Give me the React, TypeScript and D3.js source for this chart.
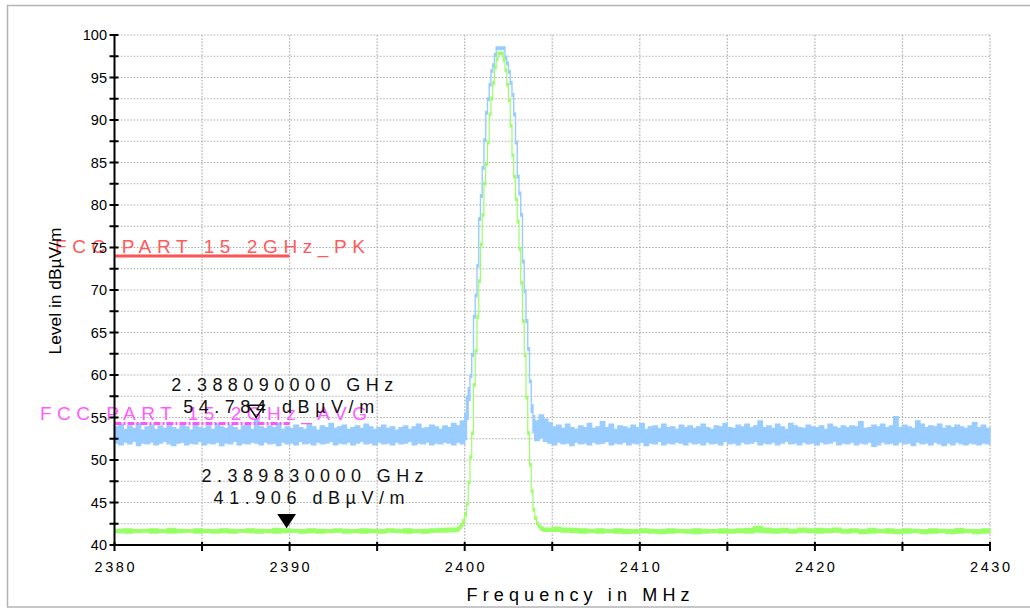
import React from "react";
import * as d3 from "d3";

// ---------- DATA ----------
const xDomain = [2380, 2430];
const yDomain = [40, 100];
const yLabelTicks = [40, 45, 50, 55, 60, 65, 70, 75, 80, 85, 90, 95, 100];
const yAllTicks = [40, 42.5, 45, 47.5, 50, 52.5, 55, 57.5, 60, 62.5, 65, 67.5, 70, 72.5, 75, 77.5, 80, 82.5, 85, 87.5, 90, 92.5, 95, 97.5, 100];
const xLabelTicks = [2380, 2390, 2400, 2410, 2420, 2430];
const xAllTicks = [2380, 2385, 2390, 2395, 2400, 2405, 2410, 2415, 2420, 2425, 2430];

// Peak detector trace (blue), noise envelope, 2380.00..2399.75 step 0.25 MHz
const pkLeftStart = 2380, pkLeftStep = 0.25;
const pkLeftHi = [
  53.9, 54.2, 53.6, 54.0, 53.7, 54.3, 53.5, 53.9, 54.1, 53.6,
  54.0, 53.7, 54.4, 53.8, 53.6, 54.1, 53.9, 53.5, 54.2, 53.8,
  53.7, 54.0, 53.6, 54.3, 53.9, 53.7, 54.1, 53.8, 53.5, 54.0,
  54.2, 53.6, 54.784, 53.9, 53.7, 54.0, 53.8, 54.3, 53.6, 53.9,
  53.7, 54.1, 53.8, 53.6, 54.2, 53.9, 53.5, 54.0, 53.8, 54.3,
  53.7, 53.9, 54.1, 53.6, 53.8, 54.0, 53.7, 54.2, 53.9, 53.6,
  53.8, 54.1, 53.7, 53.9, 53.5, 53.8, 54.0, 53.6, 53.9, 54.2,
  53.7, 53.8, 54.1, 53.9, 53.6, 54.0, 53.8, 54.3, 54.0, 54.6,
];
const pkLeftLo = [
  52.0, 51.8, 52.1, 51.9, 52.2, 51.7, 52.0, 51.9, 52.1, 51.8,
  52.0, 52.2, 51.9, 51.7, 52.0, 52.1, 51.8, 52.0, 51.9, 52.2,
  51.8, 52.0, 51.9, 52.1, 51.7, 52.0, 51.9, 52.2, 51.8, 52.0,
  51.9, 52.1, 52.0, 51.8, 52.1, 51.9, 52.0, 51.7, 52.1, 51.9,
  52.0, 51.8, 52.2, 51.9, 52.0, 51.8, 52.1, 51.9, 52.0, 52.2,
  51.8, 52.0, 51.9, 52.1, 51.8, 52.0, 52.2, 51.9, 52.0, 51.8,
  52.1, 51.9, 52.0, 51.8, 52.1, 51.9, 52.0, 52.2, 51.8, 52.0,
  51.9, 52.1, 51.8, 52.0, 51.9, 52.1, 52.0, 51.8, 52.1, 51.9,
];
// Peak trace around the carrier, 2400.0..2404.0 step 0.1 MHz
const pkPeakStart = 2400, pkPeakStep = 0.1;
const pkPeakHi = [
  55.5, 57.5, 58.5, 60.0, 62.5, 67.0, 69.5, 73.0, 78.5, 81.2,
  84.5, 87.8, 91.0, 92.6, 94.3, 95.9, 96.6, 97.8, 98.6, 98.6,
  98.6, 98.6, 98.6, 97.5, 96.8, 95.8, 94.5, 93.1, 90.8, 87.5,
  83.5, 81.5, 79.0, 73.5, 70.0, 66.5, 63.2, 59.4, 56.5, 55.2,
  54.6,
];
const pkPeakLo = [
  52.4, 54.8, 57.0, 59.7, 62.2, 66.7, 69.2, 72.7, 78.2, 80.9,
  84.2, 87.5, 90.7, 92.3, 94.0, 95.6, 96.3, 97.5, 98.3, 98.3,
  98.3, 98.3, 98.3, 97.2, 96.5, 95.5, 94.2, 92.8, 90.5, 87.2,
  83.2, 81.2, 78.7, 73.2, 69.7, 66.2, 62.9, 59.1, 55.6, 53.2,
  52.3,
];
// Peak trace noise envelope, 2404.25..2430.00 step 0.25 MHz
const pkRightStart = 2404.25, pkRightStep = 0.25;
const pkRightHi = [
  55.3, 54.8, 54.4, 53.9, 54.1, 53.7, 54.2, 53.8, 53.6, 54.0,
  53.8, 54.3, 53.7, 53.9, 54.5, 53.8, 54.2, 53.6, 54.0, 53.9,
  53.7, 54.1, 53.8, 54.3, 53.6, 53.9, 54.0, 53.7, 54.2, 53.8,
  53.9, 53.6, 54.1, 53.8, 54.0, 53.7, 53.9, 54.2, 53.8, 53.6,
  54.0, 53.9, 54.3, 53.8, 53.7, 54.1, 53.9, 54.2, 53.8, 54.0,
  54.6, 53.8, 54.0, 53.7, 54.2, 53.9, 53.6, 54.3, 54.0, 53.8,
  53.7, 54.1, 53.9, 53.8, 54.0, 53.6, 54.2, 53.9, 53.7, 54.0,
  53.8, 54.0, 53.9, 54.5, 53.7, 53.8, 54.1, 53.9, 54.2, 53.8,
  54.0, 55.1, 53.8, 54.1, 53.9, 53.7, 54.6, 54.2, 53.8, 54.0,
  53.9, 54.2, 53.7, 54.0, 53.8, 54.1, 53.9, 53.7, 54.0, 54.4,
  53.8, 54.1, 53.7, 53.9,
];
const pkRightLo = [
  52.6, 52.2, 52.0, 51.8, 52.1, 51.9, 52.0, 51.7, 52.1, 51.9,
  52.0, 51.8, 52.1, 51.9, 52.0, 52.2, 51.8, 52.0, 51.9, 52.1,
  51.8, 52.0, 51.9, 52.1, 51.7, 52.0, 51.9, 52.2, 51.8, 52.0,
  51.9, 52.1, 52.0, 51.8, 52.1, 51.9, 52.0, 51.8, 52.1, 51.9,
  52.0, 51.8, 52.2, 51.9, 52.0, 51.8, 52.1, 51.9, 52.0, 52.2,
  51.8, 52.0, 51.9, 52.1, 51.8, 52.0, 52.2, 51.9, 52.0, 51.8,
  52.1, 51.9, 52.0, 51.8, 52.1, 51.9, 52.0, 52.2, 51.8, 52.0,
  51.9, 52.1, 51.8, 52.0, 51.9, 52.1, 51.6, 51.8, 52.1, 51.9,
  52.0, 51.8, 52.1, 51.9, 52.0, 51.7, 52.1, 51.9, 52.0, 51.8,
  52.1, 51.9, 51.7, 52.0, 51.8, 52.1, 51.9, 51.8, 52.0, 51.9,
  51.8, 52.0, 51.9, 51.7,
];

// Average detector trace (green), 2380.0..2399.0 step 0.5 MHz
const avLeftStart = 2380, avLeftStep = 0.5;
const avLeftHi = [
  41.85, 41.9, 41.8, 41.85, 41.9, 41.8, 41.95, 41.85, 41.8, 41.9,
  41.85, 41.8, 41.9, 41.85, 41.8, 41.9, 41.85, 41.8, 41.95, 41.9,
  41.85, 41.8, 41.9, 41.85, 41.8, 41.9, 41.85, 41.8, 41.9, 41.85,
  41.8, 41.9, 41.85, 41.9, 41.8, 41.85, 41.9, 41.95, 42.0,
];
const avLeftLo = [
  41.45, 41.4, 41.45, 41.5, 41.4, 41.45, 41.4, 41.45, 41.5, 41.4,
  41.45, 41.4, 41.45, 41.4, 41.5, 41.45, 41.4, 41.45, 41.4, 41.45,
  41.5, 41.4, 41.45, 41.4, 41.45, 41.5, 41.4, 41.45, 41.4, 41.45,
  41.4, 41.5, 41.45, 41.4, 41.45, 41.4, 41.5, 41.5, 41.55,
];
// Average trace around the carrier, 2399.5..2404.5 step 0.1 MHz
const avPeakStart = 2399.5, avPeakStep = 0.1;
const avPeakHi = [
  42.0, 42.1, 42.3, 42.6, 43.0, 43.8, 45.0, 47.5, 50.5, 53.3,
  59.0, 63.0, 67.0, 71.2, 75.5, 79.0, 82.7, 85.0, 87.5, 90.8,
  92.7, 94.5, 96.3, 97.3, 98.0, 98.0, 98.0, 97.2, 96.0, 94.3,
  92.5, 89.5, 86.0, 83.5, 80.8, 78.2, 75.0, 71.0, 66.5, 62.5,
  57.5, 53.3, 49.6, 46.5, 44.3, 43.3, 42.7, 42.4, 42.2, 42.1,
  42.0,
];
const avPeakLo = [
  41.6, 41.7, 41.9, 42.2, 42.6, 43.4, 44.7, 47.2, 50.2, 53.0,
  58.7, 62.7, 66.7, 70.9, 75.2, 78.7, 82.4, 84.7, 87.2, 90.5,
  92.4, 94.2, 96.0, 97.0, 97.7, 97.7, 97.7, 96.9, 95.7, 94.0,
  92.2, 89.2, 85.7, 83.2, 80.5, 77.9, 74.7, 70.7, 66.2, 62.2,
  57.2, 53.0, 49.3, 46.2, 44.0, 43.0, 42.4, 42.1, 41.8, 41.7,
  41.6,
];
// Average trace, 2405.0..2430.0 step 0.5 MHz
const avRightStart = 2405, avRightStep = 0.5;
const avRightHi = [
  42.1, 42.0, 41.95, 41.9, 41.85, 41.9, 41.8, 41.9, 41.85, 41.8,
  41.9, 41.85, 41.8, 41.9, 41.85, 41.8, 41.9, 41.85, 41.8, 41.9,
  41.85, 41.9, 41.95, 42.2, 42.0, 41.9, 41.95, 41.85, 42.0, 41.9,
  41.95, 41.9, 42.0, 41.85, 41.9, 41.8, 41.95, 41.85, 41.9, 41.8,
  41.9, 41.85, 41.8, 41.9, 41.85, 41.8, 41.95, 41.85, 41.8, 41.9,
  41.85,
];
const avRightLo = [
  41.6, 41.5, 41.45, 41.4, 41.45, 41.4, 41.45, 41.4, 41.35, 41.4,
  41.45, 41.4, 41.35, 41.4, 41.45, 41.4, 41.35, 41.4, 41.45, 41.4,
  41.4, 41.45, 41.4, 41.5, 41.45, 41.4, 41.45, 41.4, 41.5, 41.45,
  41.4, 41.45, 41.5, 41.4, 41.45, 41.35, 41.4, 41.45, 41.4, 41.35,
  41.4, 41.45, 41.35, 41.4, 41.45, 41.35, 41.4, 41.45, 41.35, 41.4,
  41.4,
];

// Limit lines
const limitNames = ["FCC PART 15 2GHz_PK", "FCC PART 15 2GHz_AVG"];
const limitValues = [74, 54.3];
const limitFrom = [2380, 2380];
const limitTo = [2390, 2390];

// Markers
const markerFreqs = [2388.09, 2389.83];
const markerLevels = [54.784, 41.906];
const markerFreqLabels = ["2.388090000 GHz", "2.389830000 GHz"];
const markerLevelLabels = ["54.784 dBµV/m", "41.906 dBµV/m"];

// ---------- STYLE / LAYOUT ----------
const W = 1030, H = 608;
const PL = 114.5, PR = 990, PT = 35, PB = 545;
const FONT = "'Liberation Sans', Arial, sans-serif";
const BLUE = "#99ccff";
const GREEN = "#99ff66";
const limitColors = ["#ff5252", "#ff55ff"];
const limitTextColors = ["#ff5a5a", "#ff5cff"];
const limitDash = [undefined, "7,2,2,2"];
const limitTextX = [55, 40];
const limitTextLen = [310, 327];
const markerFilled = [false, true];
const markerTextDy = [-26, -45];

type Pt = { f: number; lo: number; hi: number };

function seg(start: number, step: number, hi: number[], lo: number[]): Pt[] {
  return hi.map((h, i) => ({ f: start + i * step, hi: h, lo: lo[i] }));
}

const pkPoints: Pt[] = [
  ...seg(pkLeftStart, pkLeftStep, pkLeftHi, pkLeftLo),
  ...seg(pkPeakStart, pkPeakStep, pkPeakHi, pkPeakLo),
  ...seg(pkRightStart, pkRightStep, pkRightHi, pkRightLo),
];
const avPoints: Pt[] = [
  ...seg(avLeftStart, avLeftStep, avLeftHi, avLeftLo),
  ...seg(avPeakStart, avPeakStep, avPeakHi, avPeakLo),
  ...seg(avRightStart, avRightStep, avRightHi, avRightLo),
];

export default function App() {
  const x = d3.scaleLinear().domain(xDomain).range([PL, PR]);
  const y = d3.scaleLinear().domain(yDomain).range([PB, PT]);

  const area = d3
    .area<Pt>()
    .x((d) => x(d.f))
    .y0((d) => y(d.lo))
    .y1((d) => y(d.hi))
    .curve(d3.curveStepAfter);

  return (
    <div style={{ position: "absolute", left: 0, top: 0, width: W, height: H }}>
      <svg width={W} height={H} style={{ display: "block", fontFamily: FONT }}>
        <rect x={0} y={0} width={W} height={H} fill="#ffffff" />
        <rect x={7.5} y={5.5} width={W + 10} height={601.5} fill="#ffffff" stroke="#b4b4b4" strokeWidth={1.5} />

        {/* grid */}
        <g stroke="#b0b0b0" strokeWidth={1.2} strokeDasharray="1.6,1.6">
          {yAllTicks
            .filter((t) => t > yDomain[0])
            .map((t) => (
              <line key={"gy" + t} x1={PL} x2={PR} y1={y(t)} y2={y(t)} />
            ))}
          {xAllTicks
            .filter((t) => t > xDomain[0])
            .map((t) => (
              <line key={"gx" + t} x1={x(t)} x2={x(t)} y1={PT} y2={PB} />
            ))}
        </g>

        {/* traces */}
        <path d={area(pkPoints) || ""} fill={BLUE} stroke={BLUE} strokeWidth={1.4} />
        <path d={area(avPoints) || ""} fill={GREEN} stroke={GREEN} strokeWidth={1.2} />

        {/* limit lines */}
        {limitNames.map((n, i) => (
          <g key={n}>
            <line
              x1={x(limitFrom[i])}
              x2={x(limitTo[i])}
              y1={y(limitValues[i])}
              y2={y(limitValues[i])}
              stroke={limitColors[i]}
              strokeWidth={3}
              strokeDasharray={limitDash[i]}
            />
            <text
              x={limitTextX[i]}
              y={y(limitValues[i]) - 3}
              fontSize={19}
              fill={limitTextColors[i]}
              textLength={limitTextLen[i]}
              lengthAdjust="spacing"
            >
              {n}
            </text>
          </g>
        ))}

        {/* markers */}
        {markerFreqs.map((f, i) => {
          const mx = x(f);
          const my = y(markerLevels[i]) - 2;
          const tri = `M${mx - 8},${my - 12} L${mx + 8},${my - 12} L${mx},${my} Z`;
          const ty = my + markerTextDy[i];
          return (
            <g key={"m" + i}>
              <path d={tri} fill={markerFilled[i] ? "#000" : "none"} stroke="#000" strokeWidth={1.5} />
              <text x={mx - 85} y={ty} fontSize={18} fill="#111" textLength={222} lengthAdjust="spacing">
                {markerFreqLabels[i]}
              </text>
              <text x={mx - 73} y={ty + 22} fontSize={18} fill="#111" textLength={191} lengthAdjust="spacing">
                {markerLevelLabels[i]}
              </text>
            </g>
          );
        })}

        {/* axes */}
        <line x1={PL} x2={PL} y1={PT} y2={PB} stroke="#000" strokeWidth={2} />
        <line x1={PL} x2={PR} y1={PB} y2={PB} stroke="#000" strokeWidth={2} />
        {yAllTicks.map((t) => (
          <line key={"ty" + t} x1={PL - 5} x2={PL + 4} y1={y(t)} y2={y(t)} stroke="#000" strokeWidth={2} />
        ))}
        {xAllTicks.map((t) => (
          <line key={"tx" + t} x1={x(t)} x2={x(t)} y1={PB - 3} y2={PB + 6} stroke="#000" strokeWidth={2} />
        ))}
        {yLabelTicks.map((t) => (
          <text key={"ly" + t} x={107} y={y(t) + 5} fontSize={14.5} textAnchor="end" fill="#000">
            {t}
          </text>
        ))}
        {xLabelTicks.map((t) => (
          <text
            key={"lx" + t}
            x={x(t)}
            y={572}
            fontSize={14.5}
            textAnchor="middle"
            fill="#000"
            textLength={40}
            lengthAdjust="spacing"
          >
            {t}
          </text>
        ))}

        <text x={578} y={601} fontSize={18} textAnchor="middle" fill="#000" textLength={223} lengthAdjust="spacing">
          Frequency in MHz
        </text>
        <text
          transform={`translate(61,291) rotate(-90)`}
          fontSize={16}
          textAnchor="middle"
          fill="#000"
          textLength={127}
          lengthAdjust="spacingAndGlyphs"
        >
          Level in dBµV/m
        </text>
      </svg>
    </div>
  );
}
